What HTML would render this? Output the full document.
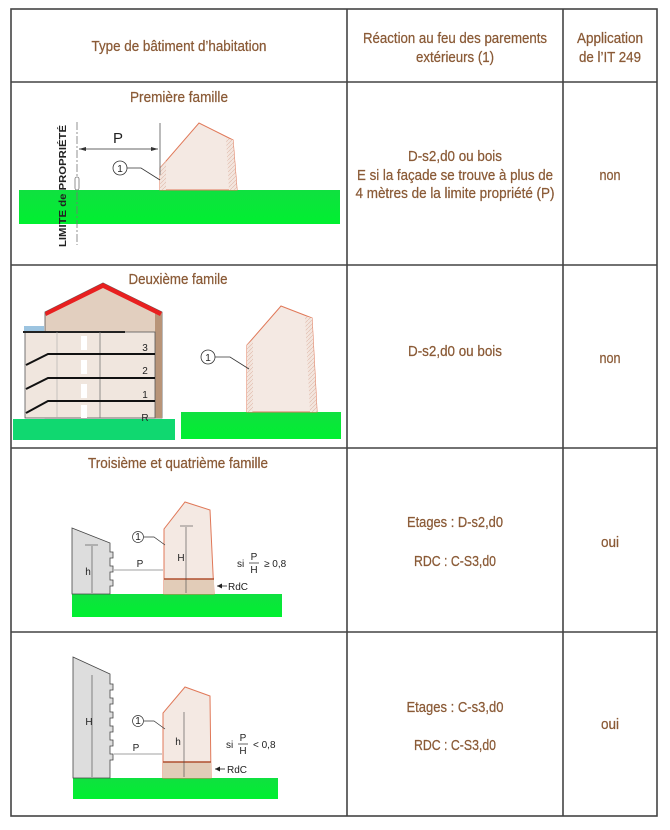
<!DOCTYPE html>
<html><head><meta charset="utf-8"><style>
html,body{margin:0;padding:0;background:#fff;width:670px;height:830px;overflow:hidden}
svg{display:block}
.t{font-family:"Liberation Sans Narrow","Liberation Sans",sans-serif;fill:#8a5a36;font-size:15px;text-anchor:middle;stroke:#8a5a36;stroke-width:0.25}
.s{font-family:"Liberation Sans",sans-serif;fill:#222;font-size:10px;text-anchor:middle}
</style></head><body>
<svg width="670" height="830" viewBox="0 0 670 830">
<defs>
<linearGradient id="gr" x1="0" y1="0" x2="0" y2="1"><stop offset="0" stop-color="#10e040"/><stop offset="1" stop-color="#00f030"/></linearGradient>
<pattern id="hatch" width="4" height="4" patternUnits="userSpaceOnUse"><rect width="4" height="4" fill="#f3e6df"/><path d="M0 4L4 0" stroke="#e0b8a8" stroke-width="0.6"/></pattern>
</defs>
<g stroke="#444" stroke-width="1.6" fill="none">
<rect x="11" y="9" width="646" height="807"/>
<line x1="347" y1="9" x2="347" y2="816"/>
<line x1="563" y1="9" x2="563" y2="816"/>
<line x1="11" y1="82" x2="657" y2="82"/>
<line x1="11" y1="265" x2="657" y2="265"/>
<line x1="11" y1="448" x2="657" y2="448"/>
<line x1="11" y1="632" x2="657" y2="632"/>
</g>
<text class="t" x="179" y="51" textLength="175" lengthAdjust="spacingAndGlyphs">Type de bâtiment d’habitation</text>
<text class="t" x="455" y="43" textLength="184" lengthAdjust="spacingAndGlyphs">Réaction au feu des parements</text>
<text class="t" x="455" y="62" textLength="78" lengthAdjust="spacingAndGlyphs">extérieurs (1)</text>
<text class="t" x="610" y="43" textLength="66" lengthAdjust="spacingAndGlyphs">Application</text>
<text class="t" x="610" y="62" textLength="62" lengthAdjust="spacingAndGlyphs">de l’IT 249</text>

<text class="t" x="179" y="102" textLength="98" lengthAdjust="spacingAndGlyphs">Première famille</text>
<g>
<rect x="19" y="190" width="321" height="34" fill="url(#gr)"/>
<polygon points="160,190 160,168 199,123 233,140 237,190" fill="#f4e9e3" stroke="#e07858" stroke-width="1"/>
<polygon points="160,190 160,168 166,161 166,190" fill="url(#hatch)"/>
<polygon points="226,138 233,140 237,190 229,190" fill="url(#hatch)"/>
<line x1="77" y1="122" x2="77" y2="245" stroke="#777" stroke-dasharray="8,2,2,2" stroke-width="0.8"/>
<rect x="75" y="177" width="4" height="13" rx="2" fill="#fff" stroke="#777" stroke-width="0.8"/>
<line x1="160" y1="123" x2="160" y2="175" stroke="#555" stroke-width="0.8"/>
<line x1="79" y1="149" x2="158" y2="149" stroke="#333" stroke-width="0.8"/>
<path d="M79 149l7-2v4z M158 149l-7-2v4z" fill="#333"/>
<text x="118" y="143" font-family="Liberation Sans" font-size="15" text-anchor="middle" fill="#222">P</text>
<circle cx="120" cy="168" r="7" fill="#fff" stroke="#333" stroke-width="0.8"/>
<text x="120" y="172" font-family="Liberation Sans" font-size="10" text-anchor="middle" fill="#222">1</text>
<path d="M127 168h14l19 12" fill="none" stroke="#333" stroke-width="0.8"/>
<text x="66" y="186" transform="rotate(-90 66 186)" textLength="122" lengthAdjust="spacingAndGlyphs" font-family="Liberation Sans" font-weight="bold" font-size="10" text-anchor="middle" fill="#222">LIMITE de PROPRIÉTÉ</text>
</g>
<text class="t" x="455" y="161" textLength="94" lengthAdjust="spacingAndGlyphs">D-s2,d0 ou bois</text>
<text class="t" x="455" y="180" textLength="196" lengthAdjust="spacingAndGlyphs">E si la façade se trouve à plus de</text>
<text class="t" x="455" y="198" textLength="199" lengthAdjust="spacingAndGlyphs">4 mètres de la limite propriété (P)</text>
<text class="t" x="610" y="180" textLength="21" lengthAdjust="spacingAndGlyphs">non</text>

<text class="t" x="178" y="284" textLength="99" lengthAdjust="spacingAndGlyphs">Deuxième famile</text>
<g>
<rect x="13" y="419" width="162" height="21" fill="#10d870"/>
<polygon points="45,312 103,283 162,312 162,418 45,418" fill="#e2cfbf" stroke="#555" stroke-width="0.8"/>
<rect x="155" y="312" width="7" height="106" fill="#b89478"/>
<polygon points="45,312 103,283 162,312 160,316 103,288 46,316" fill="#e82020"/>
<rect x="25" y="332" width="130" height="86" fill="#f0e6de" stroke="#555" stroke-width="0.8"/>
<rect x="24" y="326" width="20" height="6" fill="#9cc4e0"/>
<line x1="23" y1="332" x2="125" y2="332" stroke="#222" stroke-width="2"/>
<line x1="100" y1="332" x2="100" y2="418" stroke="#777" stroke-width="0.8"/>
<line x1="57" y1="332" x2="57" y2="418" stroke="#aaa" stroke-width="0.6"/>
<path d="M26 365l22-11h107 M26 389l22-11h107 M26 413l22-12h107" fill="none" stroke="#111" stroke-width="2"/>
<rect x="81" y="336" width="6" height="14" fill="#fff"/><rect x="81" y="360" width="6" height="14" fill="#fff"/><rect x="81" y="384" width="6" height="14" fill="#fff"/><rect x="81" y="405" width="6" height="13" fill="#fff"/>
<g font-family="Liberation Sans" font-size="10" fill="#222" text-anchor="middle"><text x="145" y="351">3</text><text x="145" y="374">2</text><text x="145" y="398">1</text><text x="145" y="421">R</text></g>
<rect x="181" y="412" width="160" height="27" fill="url(#gr)"/>
<polygon points="247,412 247,345 281,306 312,318 317,412" fill="#f4e9e3" stroke="#e07858" stroke-width="1"/>
<polygon points="247,412 247,345 253,339 253,412" fill="url(#hatch)"/>
<polygon points="305,316 312,318 317,412 310,412" fill="url(#hatch)"/>
<circle cx="208" cy="357" r="7" fill="#fff" stroke="#333" stroke-width="0.8"/>
<text x="208" y="361" font-family="Liberation Sans" font-size="10" text-anchor="middle" fill="#222">1</text>
<path d="M215 357h15l19 12" fill="none" stroke="#333" stroke-width="0.8"/>
</g>
<text class="t" x="455" y="356" textLength="94" lengthAdjust="spacingAndGlyphs">D-s2,d0 ou bois</text>
<text class="t" x="610" y="363" textLength="21" lengthAdjust="spacingAndGlyphs">non</text>

<text class="t" x="178" y="468" textLength="180" lengthAdjust="spacingAndGlyphs">Troisième et quatrième famille</text>
<g>
<rect x="72" y="594" width="210" height="23" fill="url(#gr)"/>
<polygon points="72,528 110,543 110,552 113,552 113,558 110,558 110,566 113,566 113,572 110,572 110,580 113,580 113,586 110,586 110,594 72,594" fill="#ddd" stroke="#444" stroke-width="0.8"/>
<polygon points="164,594 164,529 185,502 210,510 214,594" fill="#f4e9e3" stroke="#e07858" stroke-width="1"/>
<rect x="164" y="579" width="50" height="15" fill="#e2ccb8"/>
<line x1="164" y1="579" x2="214" y2="579" stroke="#b05030" stroke-width="1.5"/>
<line x1="180" y1="526" x2="193" y2="526" stroke="#444" stroke-width="0.6"/>
<line x1="186" y1="527" x2="186" y2="593" stroke="#444" stroke-width="0.6"/>
<line x1="85" y1="545" x2="98" y2="545" stroke="#444" stroke-width="0.6"/>
<line x1="92" y1="546" x2="92" y2="593" stroke="#444" stroke-width="0.6"/>
<line x1="114" y1="570" x2="163" y2="570" stroke="#444" stroke-width="0.6"/>
<text class="s" x="88" y="575">h</text><text class="s" x="140" y="567">P</text><text class="s" x="181" y="561">H</text>
<circle cx="138" cy="537" r="5.5" fill="#fff" stroke="#333" stroke-width="0.7"/><text class="s" x="138" y="540" font-size="8">1</text>
<path d="M144 537h10l11 8" fill="none" stroke="#333" stroke-width="0.7"/>
<text class="s" x="237" y="567" style="text-anchor:start">si</text>
<text class="s" x="254" y="560">P</text><line x1="249" y1="563" x2="259" y2="563" stroke="#222" stroke-width="0.7"/><text class="s" x="254" y="573">H</text>
<text class="s" x="264" y="567" style="text-anchor:start">≥ 0,8</text>
<path d="M217 586h10" stroke="#222" stroke-width="0.8"/><path d="M217 586l5-2.5v5z" fill="#222"/>
<text class="s" x="228" y="590" style="text-anchor:start">RdC</text>
</g>
<text class="t" x="455" y="527" textLength="96" lengthAdjust="spacingAndGlyphs">Etages : D-s2,d0</text>
<text class="t" x="455" y="566" textLength="82" lengthAdjust="spacingAndGlyphs">RDC : C-S3,d0</text>
<text class="t" x="610" y="547" textLength="18" lengthAdjust="spacingAndGlyphs">oui</text>

<g>
<rect x="73" y="778" width="205" height="21" fill="url(#gr)"/>
<polygon points="73,657 110,674 110,684 113,684 113,690 110,690 110,698 113,698 113,704 110,704 110,712 113,712 113,718 110,718 110,726 113,726 113,732 110,732 110,740 113,740 113,746 110,746 110,754 113,754 113,760 110,760 110,778 73,778" fill="#ddd" stroke="#444" stroke-width="0.8"/>
<polygon points="163,778 163,713 185,687 210,696 211,778" fill="#f4e9e3" stroke="#e07858" stroke-width="1"/>
<rect x="163" y="762" width="48" height="16" fill="#e2ccb8"/>
<line x1="163" y1="762" x2="211" y2="762" stroke="#b05030" stroke-width="1.5"/>
<line x1="92" y1="675" x2="92" y2="777" stroke="#444" stroke-width="0.6"/>
<line x1="184" y1="712" x2="184" y2="777" stroke="#444" stroke-width="0.6"/>
<line x1="114" y1="754" x2="162" y2="754" stroke="#444" stroke-width="0.6"/>
<text class="s" x="89" y="725">H</text><text class="s" x="136" y="751">P</text><text class="s" x="178" y="745">h</text>
<circle cx="138" cy="721" r="5.5" fill="#fff" stroke="#333" stroke-width="0.7"/><text class="s" x="138" y="724" font-size="8">1</text>
<path d="M144 721h10l11 8" fill="none" stroke="#333" stroke-width="0.7"/>
<text class="s" x="226" y="748" style="text-anchor:start">si</text>
<text class="s" x="243" y="741">P</text><line x1="238" y1="744" x2="248" y2="744" stroke="#222" stroke-width="0.7"/><text class="s" x="243" y="754">H</text>
<text class="s" x="253" y="748" style="text-anchor:start">&lt; 0,8</text>
<path d="M215 769h10" stroke="#222" stroke-width="0.8"/><path d="M215 769l5-2.5v5z" fill="#222"/>
<text class="s" x="227" y="773" style="text-anchor:start">RdC</text>
</g>
<text class="t" x="455" y="712" textLength="97" lengthAdjust="spacingAndGlyphs">Etages : C-s3,d0</text>
<text class="t" x="455" y="750" textLength="82" lengthAdjust="spacingAndGlyphs">RDC : C-S3,d0</text>
<text class="t" x="610" y="729" textLength="18" lengthAdjust="spacingAndGlyphs">oui</text>
</svg>
</body></html>
